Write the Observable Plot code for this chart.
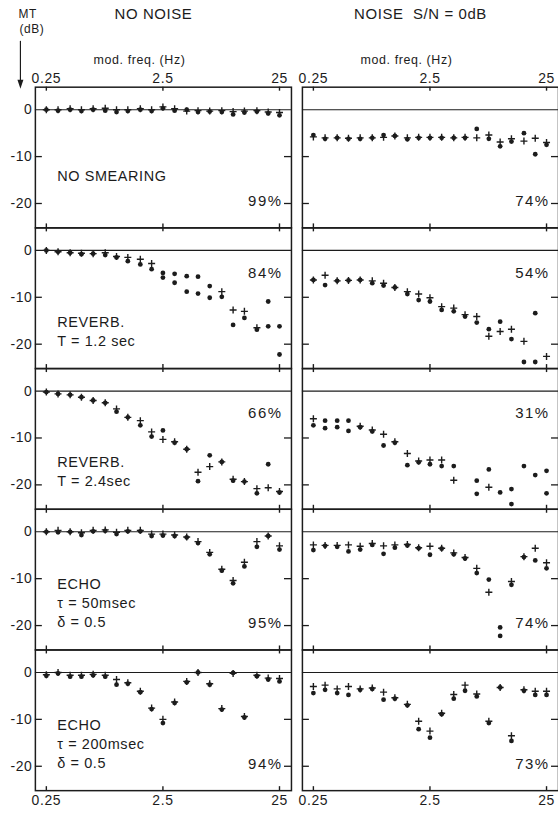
<!DOCTYPE html>
<html><head><meta charset="utf-8">
<script src="https://cdn.jsdelivr.net/npm/d3@7"></script>
<script src="https://cdn.jsdelivr.net/npm/@observablehq/plot@0.6"></script>
<style>
html,body{margin:0;padding:0;background:#fff;overflow:hidden;}
svg text{letter-spacing:0.6px;}
</style></head><body><div id="chart"></div>
<script>
// ---- data ----
const freqs = [0.25, 0.315, 0.4, 0.5, 0.63, 0.8, 1, 1.25, 1.6, 2, 2.5, 3.15, 4, 5, 6.3, 8, 10, 12.5, 16, 20, 25];
const columns = ["NO NOISE", "NOISE  S/N = 0dB"];
const rows = ["none", "rev12", "rev24", "echo50", "echo200"];
const rowLabels = ["NO SMEARING", "REVERB.\nT = 1.2 sec", "REVERB.\nT = 2.4sec", "ECHO\nτ = 50msec\nδ = 0.5", "ECHO\nτ = 200msec\nδ = 0.5"];
const pctNoNoise = ["99%", "84%", "66%", "95%", "94%"];
const pctNoise = ["74%", "54%", "31%", "74%", "73%"];
const xTicks = [0.25, 2.5, 25];
const yTicks = [0, -10, -20];
const yTickMarks = [-10, -20];

// NO NOISE column
const nnNone_dot  = [0, -0.2, 0, -0.3, 0, -0.2, -0.5, -0.3, 0, -0.3, 0.3, -0.2, 0, -0.5, -0.4, -0.5, -1, -0.6, -0.4, -0.8, -1.2];
const nnNone_plus = [0, 0, 0.2, 0, 0.2, 0.3, 0, 0, 0.2, 0, 0.6, 0.2, -0.3, -0.2, -0.3, -0.2, -0.4, -0.3, -0.2, -0.5, -0.6];
const nnRev12_dot  = [0, -0.3, -0.5, -0.8, -0.7, -1.0, -1.5, -2.3, -3.0, -4.0, -4.8, -5.0, -5.5, -5.6, -7.6, -9.9, -15.9, -14.4, -16.9, -10.9, -16.2];
const nnRev12_dot2 = [null, null, null, null, null, null, null, null, null, null, -5.8, -6.9, -8.8, -9.2, -10.1, null, null, null, null, -16.2, -22.2];
const nnRev12_plus = [0, -0.3, -0.5, -0.6, -0.7, -0.5, -1.3, -1.5, -1.9, -2.8, null, null, null, null, null, -8.8, -12.7, -13.0, -16.5, null, null];
const nnRev24_dot  = [-0.2, -0.6, -0.8, -1.3, -2.0, -2.5, -4.4, -5.6, -7.3, -9.7, -8.4, -11.0, -12.4, -19.2, -13.7, -15.1, -19.1, -19.3, -21.8, -15.6, -21.6];
const nnRev24_plus = [-0.2, -0.6, -0.8, -1.3, -2.0, -2.5, -3.8, -5.6, -6.3, -8.7, -10.3, -10.8, -12.4, -17.3, -16.1, -15.1, -18.8, -19.3, -20.8, -20.6, -21.4];
const nnEcho50_dot  = [0, -0.1, 0, -0.7, 0.1, 0.2, -0.5, 0.1, 0.1, -0.9, -0.8, -0.9, -1.2, -2.4, -4.8, -8.3, -11.0, -7.4, -3.2, -0.9, -3.8];
const nnEcho50_plus = [0, 0.3, 0, -0.2, 0.3, 0.4, -0.1, 0.3, 0.3, -0.5, -0.5, -0.7, -1.1, -2.1, -4.4, -8.0, -10.4, -6.5, -2.1, -0.9, -3.0];
const nnEcho200_dot  = [-0.7, -0.2, -0.9, -0.9, -0.6, -0.9, -2.6, -2.4, -4.2, -7.8, -10.8, -6.5, -2.1, 0, -2.6, -7.9, -0.1, -9.6, -0.8, -1.5, -1.9];
const nnEcho200_plus = [-0.5, 0, -0.6, -0.6, -0.4, -0.6, -1.5, -2.2, -4.0, -7.6, -10.0, -6.3, -1.9, 0, -2.4, -7.7, -0.2, -9.4, -0.6, -1.2, -1.3];

// NOISE S/N = 0 dB column
const nzNone_dot  = [-5.4, -6.2, -6.0, -6.2, -6.2, -6.0, -5.4, -5.6, -6.3, -6.0, -6.0, -6.0, -6.0, -6.0, -4.1, -6.2, -7.8, -6.8, -5.0, -9.5, -7.5];
const nzNone_plus = [-5.8, -6.0, -6.0, -6.1, -6.0, -6.0, -5.9, -5.6, -6.0, -5.9, -5.9, -5.9, -6.0, -5.9, -6.0, -5.4, -6.9, -6.2, -6.7, -6.1, -7.0];
const nzRev12_dot  = [-6.3, -7.4, -6.5, -6.4, -6.3, -7.0, -7.5, -7.9, -9.3, -10.6, -10.9, -12.7, -13.0, -14.1, -15.4, -16.8, -15.2, -18.9, -23.8, -13.4, null];
const nzRev12_dot2 = [null, null, null, null, null, null, null, null, null, null, null, null, null, null, null, null, null, null, null, -23.8, null];
const nzRev12_plus = [-6.3, -5.3, -6.5, -6.4, -6.3, -6.5, -7.0, -7.9, -8.8, -9.3, -10.1, -12.0, -12.3, -13.7, -14.1, -18.3, -17.3, -16.8, -19.4, null, -22.6];
const nzRev24_dot  = [-7.3, -7.9, -7.7, -8.5, -7.7, -8.6, -11.6, -11.0, -15.8, -15.2, -15.6, -16.0, -16.0, null, -19.1, -16.7, -21.6, -20.9, -16.0, -17.9, -17.0];
const nzRev24_dot2 = [null, -6.3, -6.3, -6.3, null, null, null, null, null, null, null, null, null, null, -21.9, null, null, -24.1, null, null, -21.8];
const nzRev24_plus = [-5.9, null, null, null, -7.5, -8.3, -9.2, -10.8, -13.3, -14.9, -14.7, -14.7, -19.0, null, null, -20.5, null, null, null, null, null];
const nzEcho50_dot  = [-3.9, -3.0, -3.2, -4.2, -3.8, -2.8, -4.7, -3.4, -2.9, -3.5, -4.9, -3.6, -4.8, -5.7, -8.8, -10.2, -20.4, -11.3, -5.4, -6.1, -7.8];
const nzEcho50_dot2 = [null, null, null, null, null, null, null, null, null, null, null, null, null, null, null, null, -22.2, null, null, null, null];
const nzEcho50_plus = [-2.8, -2.9, -2.9, -2.8, -3.1, -2.5, -3.0, -2.8, -2.7, -3.4, -3.1, -3.5, -4.5, -5.5, -7.8, -12.9, null, -10.6, -5.3, -3.5, -6.6];
const nzEcho200_dot  = [-4.4, -3.7, -4.4, -4.8, -3.7, -3.5, -5.8, -5.6, -7.0, -12.1, -13.9, -8.9, -5.6, -3.9, -5.1, -10.8, -3.2, -14.6, -3.9, -4.8, -4.8];
const nzEcho200_plus = [-3.0, -2.7, -3.5, -3.0, -3.5, -3.3, -4.2, -5.4, -6.8, -10.4, -12.5, -8.7, -4.7, -2.7, -4.6, -10.4, -3.2, -13.5, -3.7, -4.0, -4.0];

const panels = [
  [0, 0, nnNone_dot, null, nnNone_plus],
  [0, 1, nnRev12_dot, nnRev12_dot2, nnRev12_plus],
  [0, 2, nnRev24_dot, null, nnRev24_plus],
  [0, 3, nnEcho50_dot, null, nnEcho50_plus],
  [0, 4, nnEcho200_dot, null, nnEcho200_plus],
  [1, 0, nzNone_dot, null, nzNone_plus],
  [1, 1, nzRev12_dot, nzRev12_dot2, nzRev12_plus],
  [1, 2, nzRev24_dot, nzRev24_dot2, nzRev24_plus],
  [1, 3, nzEcho50_dot, nzEcho50_dot2, nzEcho50_plus],
  [1, 4, nzEcho200_dot, null, nzEcho200_plus]
];

// ---- build tables ----
const dots = [], pluses = [];
for (const [c, r, d1, d2, p] of panels) {
  const add = (arr, target) => (arr || []).forEach((v, i) => {
    if (v != null) target.push({col: columns[c], row: rows[r], f: freqs[i], v});
  });
  add(d1, dots); add(d2, dots); add(p, pluses);
}
const pctTable = [];
rows.forEach((r, i) => {
  pctTable.push({col: columns[0], row: r, text: pctNoNoise[i]});
  pctTable.push({col: columns[1], row: r, text: pctNoise[i]});
});
const topPctRows = ["rev12", "rev24"];
const labelTable = rows.map((r, i) => ({col: columns[0], row: r, text: rowLabels[i]}));

// ---- layout ----
const W = 560, H = 814, mT = 87, mB = 21, mL = 35, mR = 0;
const panelH = (H - mT - mB) / rows.length;
const gap = 11;
const colW = (W - mL - mR - gap) / 2;
const ink = "#1c1c1c";
const font = "Liberation Sans, Arial, sans-serif";

const chart = Plot.plot({
  width: W, height: H,
  marginTop: mT, marginBottom: mB, marginLeft: mL, marginRight: mR,
  style: {fontFamily: font, fontSize: "14px", color: ink, background: "#fff"},
  x: {type: "log", domain: [0.2013, 31.66]},
  y: {domain: [-25.2, 4.8]},
  fx: {domain: columns, paddingInner: gap / (colW + gap), paddingOuter: 0, round: false, axis: null},
  fy: {domain: rows, paddingInner: 0, paddingOuter: 0, round: false, axis: null},
  marks: [
    Plot.ruleY([0], {stroke: ink, strokeWidth: 1.1}),
    Plot.ruleX(xTicks, {stroke: ink, strokeWidth: 1.4, insetTop: panelH - 4}),
    Plot.ruleX(xTicks, {stroke: ink, strokeWidth: 1.4, insetBottom: panelH - 4}),
    Plot.ruleY(yTickMarks, {stroke: ink, strokeWidth: 1.3, insetRight: colW - 7}),
    Plot.ruleY(yTickMarks, {stroke: ink, strokeWidth: 1.3, insetLeft: colW - 7}),
    Plot.frame({stroke: ink, strokeWidth: 1.5}),
    Plot.axisY({anchor: "left", facetAnchor: "left", ticks: yTicks, tickSize: 0, tickPadding: 3,
      tickFormat: d => String(d), label: null, fontSize: 14}),
    Plot.axisX({anchor: "top", facetAnchor: "top", ticks: xTicks, tickSize: 0, tickPadding: 4,
      tickFormat: d => String(d), label: null, fontSize: 14}),
    Plot.axisX({anchor: "bottom", facetAnchor: "bottom", ticks: xTicks, tickSize: 0, tickPadding: 4,
      tickFormat: d => String(d), label: null, fontSize: 14}),
    Plot.dot(dots, {x: "f", y: "v", fx: "col", fy: "row", r: 2.4, fill: ink, stroke: null}),
    Plot.dot(pluses, {x: "f", y: "v", fx: "col", fy: "row", r: 2.4, symbol: "plus", stroke: ink, strokeWidth: 1.4}),
    // column titles and axis names
    Plot.text(columns, {fx: d => d, fy: () => rows[0], text: d => d, frameAnchor: "top",
      dx: -10, dy: -73, lineAnchor: "middle", fontSize: 15}),
    Plot.text(columns, {fx: d => d, fy: () => rows[0], text: () => "mod. freq. (Hz)", frameAnchor: "top",
      dx: -24, dy: -27, lineAnchor: "middle", fontSize: 12.5}),
    Plot.text([columns[0]], {fx: d => d, fy: () => rows[0], text: () => "MT", frameAnchor: "top-left",
      dx: -17, dy: -73, lineAnchor: "middle", fontSize: 12}),
    Plot.text([columns[0]], {fx: d => d, fy: () => rows[0], text: () => "(dB)", frameAnchor: "top-left",
      dx: -16, dy: -58, lineAnchor: "middle", fontSize: 12}),
    // condition labels
    Plot.text(labelTable.filter(d => d.row === rows[0]), {fx: "col", fy: "row", text: "text", frameAnchor: "top-left",
      dx: 22, dy: 90, textAnchor: "start", lineAnchor: "middle", fontSize: 14.5}),
    Plot.text(labelTable.filter(d => d.row !== rows[0]), {fx: "col", fy: "row", text: "text", frameAnchor: "bottom-left",
      dx: 22, dy: -23, textAnchor: "start", lineAnchor: "bottom", lineHeight: 1.32, fontSize: 14.5}),
    // percentages
    Plot.text(pctTable.filter(d => topPctRows.includes(d.row)), {fx: "col", fy: "row", text: "text", frameAnchor: "top-right",
      dx: -9, dy: 45, textAnchor: "end", lineAnchor: "middle", fontSize: 15}),
    Plot.text(pctTable.filter(d => !topPctRows.includes(d.row)), {fx: "col", fy: "row", text: "text", frameAnchor: "bottom-right",
      dx: -9, dy: -27, textAnchor: "end", lineAnchor: "middle", fontSize: 15})
  ]
});
document.getElementById("chart").appendChild(chart);

// arrow under "MT (dB)"
const svg = d3.select(chart);
svg.append("line").attr("x1", 20.5).attr("x2", 20.5).attr("y1", 41).attr("y2", 83)
  .attr("stroke", ink).attr("stroke-width", 1.2);
svg.append("path").attr("d", "M17.5,80L23.5,80L20.5,89Z").attr("fill", ink);
svg.selectAll("text").filter(function () { return /%/.test(this.textContent); }).style("letter-spacing", "1.5px");
</script></body></html>
